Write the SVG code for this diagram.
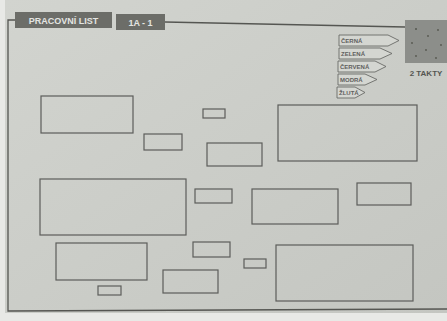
<svg xmlns="http://www.w3.org/2000/svg" width="447" height="321" viewBox="0 0 447 321">
<defs>
<linearGradient id="paper" x1="0" y1="0" x2="1" y2="1">
<stop offset="0" stop-color="#d2d4cf"/>
<stop offset="0.5" stop-color="#cbcdc8"/>
<stop offset="1" stop-color="#c4c6c1"/>
</linearGradient>
</defs>
<style>
.box{fill:none;stroke:#5c5d5a;stroke-width:1.2}
.frame{fill:none;stroke:#555652;stroke-width:1.3}
.tag{fill:#d4d6d1;stroke:#6a6b68;stroke-width:0.9}
.tagt{font-family:"Liberation Sans",Arial,sans-serif;font-size:6px;font-weight:bold;fill:#5f605d}
.hdr{fill:#6c6d68}
.hdrt{font-family:"Liberation Sans",Arial,sans-serif;font-size:9px;font-weight:bold;fill:#e4e5e2}
</style>
<rect width="447" height="321" fill="#e8e9e6"/>
<rect x="5" y="0" width="442" height="313" fill="url(#paper)"/>
<g id="frame">
<polyline class="frame" points="15,20 8,20 8,311 447,309"/>
<line class="frame" x1="165" y1="22" x2="405" y2="27"/>
</g>
<g id="header-title">
<rect class="hdr" x="15" y="12" width="97" height="16"/>
<text class="hdrt" x="63.5" y="23.5" text-anchor="middle">PRACOVNÍ LIST</text>
</g>
<g id="header-code">
<rect class="hdr" x="116" y="14" width="49" height="16"/>
<text class="hdrt" x="140.5" y="25.5" text-anchor="middle" font-size="10">1A - 1</text>
</g>
<g id="takty">
<rect x="405" y="20" width="42" height="43" fill="#8c8e8a"/>
<g fill="#55574f">
<circle cx="416" cy="29" r="1"/><circle cx="438" cy="30" r="0.9"/><circle cx="428" cy="36" r="0.9"/>
<circle cx="412" cy="43" r="0.9"/><circle cx="441" cy="45" r="0.9"/><circle cx="426" cy="50" r="0.9"/>
<circle cx="416" cy="56" r="0.9"/><circle cx="436" cy="58" r="0.9"/>
</g>
<text x="426" y="76" text-anchor="middle" font-family="Liberation Sans,Arial,sans-serif" font-size="8" font-weight="bold" fill="#555652">2 TAKTY</text>
</g>
<g id="tag-cerna">
<polygon class="tag" points="339,35 388,35 399,40.5 388,46 339,46"/>
<text class="tagt" x="341" y="42.7">ČERNÁ</text>
</g>
<g id="tag-zelena">
<polygon class="tag" points="339,48 380,48 392,53.5 380,59 339,59"/>
<text class="tagt" x="341" y="55.7">ZELENÁ</text>
</g>
<g id="tag-cervena">
<polygon class="tag" points="338,61 375,61 386,66.5 375,72 338,72"/>
<text class="tagt" x="340" y="68.7">ČERVENÁ</text>
</g>
<g id="tag-modra">
<polygon class="tag" points="338,74 365,74 377,79.5 365,85 338,85"/>
<text class="tagt" x="340" y="81.7">MODRÁ</text>
</g>
<g id="tag-zluta">
<polygon class="tag" points="337,87 355,87 365,92.5 355,98 337,98"/>
<text class="tagt" x="339" y="94.7">ŽLUTÁ</text>
</g>
<g id="boxes">
<rect id="b1" class="box" x="41" y="96" width="92" height="37"/>
<rect id="b2" class="box" x="203" y="109" width="22" height="9"/>
<rect id="b3" class="box" x="144" y="134" width="38" height="16"/>
<rect id="b4" class="box" x="207" y="143" width="55" height="23"/>
<rect id="b5" class="box" x="278" y="105" width="139" height="56"/>
<rect id="b6" class="box" x="40" y="179" width="146" height="56"/>
<rect id="b7" class="box" x="195" y="189" width="37" height="14"/>
<rect id="b8" class="box" x="252" y="189" width="86" height="35"/>
<rect id="b9" class="box" x="357" y="183" width="54" height="22"/>
<rect id="b10" class="box" x="56" y="243" width="91" height="37"/>
<rect id="b11" class="box" x="193" y="242" width="37" height="15"/>
<rect id="b12" class="box" x="244" y="259" width="22" height="9"/>
<rect id="b13" class="box" x="276" y="245" width="137" height="56"/>
<rect id="b14" class="box" x="98" y="286" width="23" height="9"/>
<rect id="b15" class="box" x="163" y="270" width="55" height="23"/>
</g>
</svg>
